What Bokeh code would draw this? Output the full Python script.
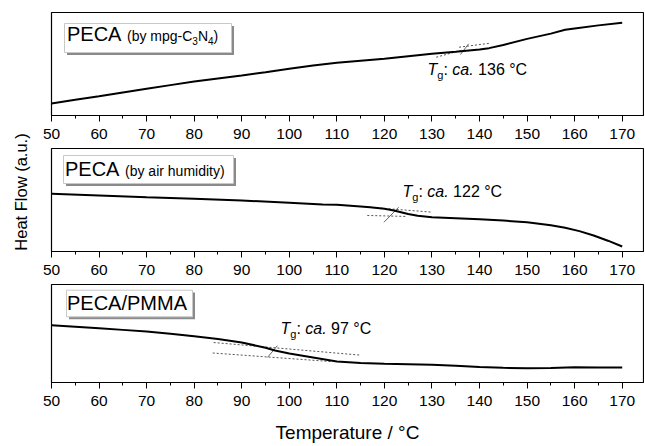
import math
from bokeh.plotting import figure
from bokeh.layouts import column, row
from bokeh.models import Range1d, FixedTicker
from bokeh.core.properties import value
from bokeh.embed import file_html
from bokeh.resources import INLINE

# ---------------- data ----------------
temp_1 = [50, 55, 60, 65, 70, 75, 80, 85, 90, 95, 100, 105, 110, 115, 120, 125,
          130, 135, 140, 142, 145, 150, 155, 158, 160, 165, 170]
flow_1 = [11.7, 15.2, 18.7, 22.3, 25.9, 29.5, 33.0, 35.9, 38.8, 42.0, 45.3, 48.5,
          51.2, 53.1, 55.0, 57.5, 59.9, 61.9, 64.0, 65.4, 68.5, 74.4, 79.5, 83.2,
          84.5, 87.5, 90.0]

temp_2 = [50, 60, 70, 80, 90, 100, 107, 110, 115, 117, 120, 122, 125, 127, 130,
          135, 140, 145, 150, 155, 158, 161, 164, 167, 170]
flow_2 = [56.0, 54.4, 52.7, 51.2, 49.5, 47.3, 45.6, 45.3, 43.8, 43.0, 41.5, 39.8,
          36.5, 34.7, 33.3, 32.4, 31.4, 30.0, 28.4, 25.5, 23.0, 19.8, 15.5, 10.5, 4.9]

temp_3 = [50, 55, 60, 65, 70, 75, 80, 85, 90, 95, 97, 100, 105, 110, 115, 120,
          125, 130, 135, 140, 145, 150, 155, 160, 165, 170]
flow_3 = [58.5, 56.9, 55.3, 53.7, 52.1, 49.8, 47.3, 44.3, 40.8, 35.5, 32.7, 29.5,
          25.5, 21.4, 20.0, 19.1, 18.6, 18.1, 17.0, 15.8, 15.0, 14.6, 14.8, 15.5,
          15.3, 15.2]

# Tg construction lines: (x list, y list)
tan_upper = [([135.7, 142.3], [66.3, 70.2]), ([116.7, 130.0], [43.0, 38.2]), ([84.1, 115.0], [40.8, 27.9])]
tan_lower = [([130.9, 136.6], [56.6, 63.8]), ([116.4, 124.8], [35.0, 34.0]), ([83.9, 108.7], [30.1, 21.4])]
tan_slash = [([136.0, 137.7], [59.2, 69.6]), ([119.9, 123.0], [28.4, 43.0]), ([95.4, 97.5], [25.5, 37.6])]

tg_values = ["136", "122", "97"]
major_ticks = [50, 60, 70, 80, 90, 100, 110, 120, 130, 140, 150, 160, 170]
minor_ticks = [55, 65, 75, 85, 95, 105, 115, 125, 135, 145, 155, 165]

x_label = "Temperature / °C"
y_label = "Heat Flow (a.u.)"

# ---------------- styles / layout ----------------
FONT = "Liberation Sans"
LAB_W = 38
FIG_W = 606
BORDER_L, BORDER_R = 13, 1
FRAME_W, FRAME_H = FIG_W - BORDER_L - BORDER_R, 103
FRAME_LEFT_ABS = LAB_W + BORDER_L
PXU = 570.7 / 120.0
X0 = 50
X1 = X0 + FRAME_W / PXU
fig_heights = [146, 136, 163]
border_top = [12, 2, 2]
border_bottom = [31, 31, 58]
frame_tops_abs = [12, 148, 284]
TEXT_DY = 0.38  # baseline correction, in em

AW = {' ': 278, '(': 333, ')': 333, '/': 278, '-': 333, '.': 278, ':': 278, '°': 400,
      'A': 667, 'C': 722, 'E': 667, 'M': 833, 'N': 722, 'P': 667, 'T': 611,
      'a': 556, 'b': 556, 'c': 500, 'd': 556, 'e': 556, 'g': 556, 'h': 556, 'i': 222,
      'm': 833, 'p': 556, 'r': 333, 't': 278, 'u': 556, 'y': 500}
for d in "0123456789":
    AW[d] = 556


def text_w(s, size):
    return sum(AW.get(c, 556) for c in s) / 1000.0 * size


def px2x(px):
    return X0 + (px - FRAME_LEFT_ABS) / PXU


def py2y(py, top):
    return 100 - (py - top) * 100.0 / FRAME_H


title_runs = [
    [("PECA ", 20, "normal", 0), ("(by mpg-C", 14, "normal", 0), ("3", 10, "normal", 4),
     ("N", 14, "normal", 0), ("4", 10, "normal", 4), (")", 14, "normal", 0)],
    [("PECA ", 20, "normal", 0), ("(by air humidity)", 14, "normal", 0)],
    [("PECA/PMMA", 20, "normal", 0)],
]
title_origin = [(66.5, 40.7), (64.5, 175.7), (66.5, 310.7)]
title_box = [(64, 231, 23, 52), (63, 233, 155, 183), (66, 192, 290, 318)]
tg_origin = [(427, 75), (402, 196.7), (280, 336.7)]


def draw_runs(p, runs, ox, oy, top):
    x = ox
    for s, size, style, dy in runs:
        lead = len(s) - len(s.lstrip(" "))
        x += text_w(" " * lead, size)
        body = s.strip(" ")
        p.text(x=[px2x(x)], y=[py2y(oy + dy - TEXT_DY * size, top)], text=[body],
               text_font=value(FONT), text_font_size=f"{size}px",
               text_font_style=style, text_color="black",
               text_align="left", text_baseline="alphabetic")
        x += text_w(s.lstrip(" "), size)


curves = [(temp_1, flow_1), (temp_2, flow_2), (temp_3, flow_3)]
figs = []
for i in range(3):
    top = frame_tops_abs[i]
    p = figure(width=FIG_W, height=fig_heights[i], x_range=Range1d(X0, X1),
               y_range=Range1d(0, 100), y_axis_location=None,
               toolbar_location=None, output_backend="svg",
               min_border_left=BORDER_L, min_border_right=BORDER_R,
               min_border_top=border_top[i], min_border_bottom=border_bottom[i])
    p.outline_line_color = "black"
    p.outline_line_width = 1.2
    p.outline_line_alpha = 1.0
    p.xgrid.visible = False
    p.ygrid.visible = False
    ax = p.xaxis[0]
    ax.ticker = FixedTicker(ticks=major_ticks, minor_ticks=minor_ticks)
    ax.major_tick_in = 0
    ax.major_tick_out = 6
    ax.minor_tick_in = 0
    ax.minor_tick_out = 3
    ax.axis_line_color = "black"
    ax.axis_line_width = 1.2
    ax.major_tick_line_color = "black"
    ax.minor_tick_line_color = "black"
    ax.major_label_text_font = FONT
    ax.major_label_text_font_size = "15.5px"
    ax.major_label_text_color = "black"
    ax.major_label_standoff = 7
    if i == 2:
        ax.axis_label = x_label
        ax.axis_label_text_font = FONT
        ax.axis_label_text_font_size = "19px"
        ax.axis_label_text_font_style = "normal"
        ax.axis_label_text_color = "black"
        ax.axis_label_standoff = 13

    # title box with shadow
    l, r, t, b = title_box[i]
    sh = 2.5
    p.quad(left=[px2x(l + sh)], right=[px2x(r + sh)], top=[py2y(t + sh, top)],
           bottom=[py2y(b + sh, top)], fill_color="#8a8a8a", line_color=None)
    p.quad(left=[px2x(l)], right=[px2x(r)], top=[py2y(t, top)], bottom=[py2y(b, top)],
           fill_color="white", line_color="#c8c8c8", line_width=1)
    draw_runs(p, title_runs[i], title_origin[i][0], title_origin[i][1], top)

    # construction lines
    for seg in (tan_upper[i], tan_lower[i]):
        p.line(seg[0], seg[1], line_color="#555555", line_width=1, line_dash="2 2")
    p.line(tan_slash[i][0], tan_slash[i][1], line_color="#666666", line_width=1)

    # curve
    p.line(curves[i][0], curves[i][1], line_color="black", line_width=2)

    # Tg annotation
    tg_runs = [("T", 16, "italic", 0), ("g", 11, "normal", 4), (": ", 16, "normal", 0),
               ("ca.", 16, "italic", 0), (f" {tg_values[i]} °C", 16, "normal", 0)]
    draw_runs(p, tg_runs, tg_origin[i][0], tg_origin[i][1], top)
    figs.append(p)

# y label as a narrow figure
total_h = sum(fig_heights)
lab = figure(width=LAB_W, height=total_h, x_range=Range1d(0, LAB_W), y_range=Range1d(0, total_h),
             toolbar_location=None, output_backend="svg",
             x_axis_location=None, y_axis_location=None,
             min_border_left=0, min_border_right=0, min_border_top=0, min_border_bottom=0)
lab.outline_line_color = None
lab.xgrid.visible = False
lab.ygrid.visible = False
lab.text(x=[20], y=[total_h - 191.5], text=[y_label], angle=math.pi / 2,
         text_font=value(FONT), text_font_size="16.5px", text_color="black",
         text_align="center", text_baseline="middle")

layout = row(lab, column(*figs, spacing=0), spacing=0)
open("out.html", "w").write(file_html(layout, INLINE))
